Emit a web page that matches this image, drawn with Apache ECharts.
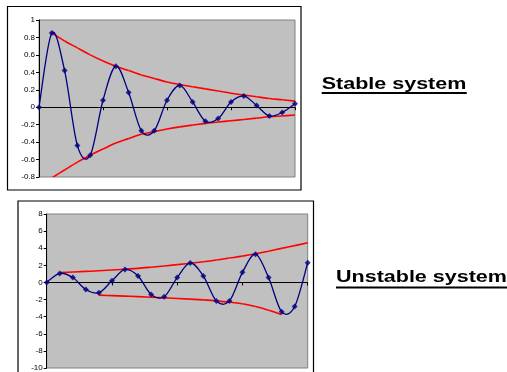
<!DOCTYPE html>
<html>
<head>
<meta charset="utf-8">
<script src="https://cdn.jsdelivr.net/npm/echarts@6/dist/echarts.min.js"></script>
<style>
html,body{margin:0;padding:0;background:#fff;}
#chart{width:507px;height:372px;}
</style>
</head>
<body>
<div id="chart"></div>
<script>
// ---- data ----
const steps = [0,1,2,3,4,5,6,7,8,9,10,11,12,13,14,15,16,17,18,19,20];
const stableResponse = [0,0.85,0.42,-0.44,-0.55,0.08,0.47,0.17,-0.27,-0.27,0.08,0.25,0.06,-0.16,-0.13,0.06,0.13,0.02,-0.10,-0.06,0.04];
const stableUpper = [null,0.85,0.76,0.68,0.60,0.53,0.47,0.42,0.37,0.33,0.29,0.26,0.235,0.21,0.185,0.16,0.14,0.12,0.10,0.085,0.07];
const stableLower = [null,-0.81,-0.72,-0.63,-0.55,-0.48,-0.41,-0.36,-0.31,-0.28,-0.25,-0.225,-0.205,-0.185,-0.17,-0.155,-0.14,-0.125,-0.11,-0.10,-0.09];
const unstableResponse = [0,1.06,0.57,-0.83,-1.21,0.19,1.52,0.76,-1.40,-1.67,0.57,2.28,0.76,-2.16,-2.16,1.18,3.30,0.57,-3.42,-2.81,2.31];
const unstableUpper = [null,1.15,1.22,1.29,1.36,1.45,1.55,1.65,1.78,1.92,2.08,2.25,2.42,2.62,2.85,3.08,3.35,3.65,3.98,4.30,4.63];
const unstableLower = [null,null,null,null,-1.48,-1.54,-1.60,-1.66,-1.73,-1.80,-1.87,-1.95,-2.04,-2.15,-2.30,-2.50,-2.82,-3.25,-3.76,null,null];
const stableAxis = {min: -0.8, max: 1, interval: 0.2};
const unstableAxis = {min: -10, max: 8, interval: 2};
const stepAxis = {min: 0, max: 20, interval: 5};
const titles = ['Stable system', 'Unstable system'];

function pairs(vals) {
  const out = [];
  vals.forEach((v, i) => { if (v !== null) out.push([steps[i], v]); });
  return out;
}

const chart = echarts.init(document.getElementById('chart'), null, {renderer: 'canvas'});

function yAx(idx, ax) {
  return {
    type: 'value', gridIndex: idx, min: ax.min, max: ax.max, interval: ax.interval,
    axisLine: {show: true, lineStyle: {color: '#000', width: 1}},
    axisTick: {show: true, length: 3, lineStyle: {color: '#000'}},
    axisLabel: {fontSize: 8, color: '#000', margin: 4, fontFamily: 'Liberation Sans'},
    splitLine: {show: false}
  };
}
function xAx(idx) {
  return {
    type: 'value', gridIndex: idx, min: stepAxis.min, max: stepAxis.max, interval: stepAxis.interval,
    axisLine: {show: true, onZero: true, lineStyle: {color: '#000', width: 1}},
    axisTick: {show: true, length: 3, lineStyle: {color: '#000'}},
    axisLabel: {show: false},
    splitLine: {show: false}
  };
}
// Smooth curve (Excel-like Catmull-Rom) drawn through the library's own coordinate system
function splineSeries(idx, vals, color, width, z) {
  const pts = pairs(vals);
  return {
    type: 'custom', xAxisIndex: idx, yAxisIndex: idx, clip: true, z: z,
    data: pts,
    encode: {x: 0, y: 1},
    silent: true,
    renderItem: function (params, api) {
      const i = params.dataIndex;
      if (i >= pts.length - 1) return {type: 'group', children: []};
      const c = k => api.coord(pts[Math.max(0, Math.min(pts.length - 1, k))]);
      const p0 = c(i - 1), p1 = c(i), p2 = c(i + 1), p3 = c(i + 2);
      return {
        type: 'bezierCurve',
        shape: {
          x1: p1[0], y1: p1[1], x2: p2[0], y2: p2[1],
          cpx1: p1[0] + (p2[0] - p0[0]) / 6, cpy1: p1[1] + (p2[1] - p0[1]) / 6,
          cpx2: p2[0] - (p3[0] - p1[0]) / 6, cpy2: p2[1] - (p3[1] - p1[1]) / 6
        },
        style: {stroke: color, lineWidth: width, fill: 'none'}
      };
    }
  };
}
function markerSeries(idx, vals) {
  return {
    type: 'scatter', xAxisIndex: idx, yAxisIndex: idx, data: pairs(vals),
    symbol: 'diamond', symbolSize: 6, itemStyle: {color: '#000080'}, z: 4, silent: true
  };
}

const option = {
  backgroundColor: '#ffffff',
  animation: false,
  grid: [
    {left: 39, top: 20, width: 256, height: 157, show: true, backgroundColor: '#C0C0C0', borderColor: '#808080', borderWidth: 1},
    {left: 46.7, top: 214, width: 261, height: 158, show: true, backgroundColor: '#C0C0C0', borderColor: '#808080', borderWidth: 1}
  ],
  xAxis: [xAx(0), xAx(1)],
  yAxis: [yAx(0, stableAxis), yAx(1, unstableAxis)],
  series: [
    splineSeries(0, stableUpper, '#ff0000', 1.6, 2),
    splineSeries(0, stableLower, '#ff0000', 1.6, 2),
    splineSeries(0, stableResponse, '#000080', 1.3, 3),
    markerSeries(0, stableResponse),
    splineSeries(1, unstableUpper, '#ff0000', 1.6, 2),
    splineSeries(1, unstableLower, '#ff0000', 1.6, 2),
    splineSeries(1, unstableResponse, '#000080', 1.3, 3),
    markerSeries(1, unstableResponse)
  ],
  graphic: [
    {type: 'rect', shape: {x: 7.5, y: 6.5, width: 293.5, height: 183.5}, style: {fill: 'none', stroke: '#000', lineWidth: 1.2}, z: 10},
    {type: 'rect', shape: {x: 18, y: 201, width: 295.5, height: 190}, style: {fill: 'none', stroke: '#000', lineWidth: 1.2}, z: 10},
    {type: 'text', x: 321.7, y: 84, scaleX: 1.265, style: {x: 0, y: 0, text: titles[0], font: 'bold 17px "Liberation Sans"', fill: '#000', verticalAlign: 'middle'}, z: 10},
    {type: 'rect', shape: {x: 321.7, y: 92, width: 145, height: 2}, style: {fill: '#000'}, z: 10},
    {type: 'text', x: 336, y: 277, scaleX: 1.265, style: {x: 0, y: 0, text: titles[1], font: 'bold 17px "Liberation Sans"', fill: '#000', verticalAlign: 'middle'}, z: 10},
    {type: 'rect', shape: {x: 336, y: 286.5, width: 171, height: 2}, style: {fill: '#000'}, z: 10}
  ]
};
chart.setOption(option);
</script>
</body>
</html>
